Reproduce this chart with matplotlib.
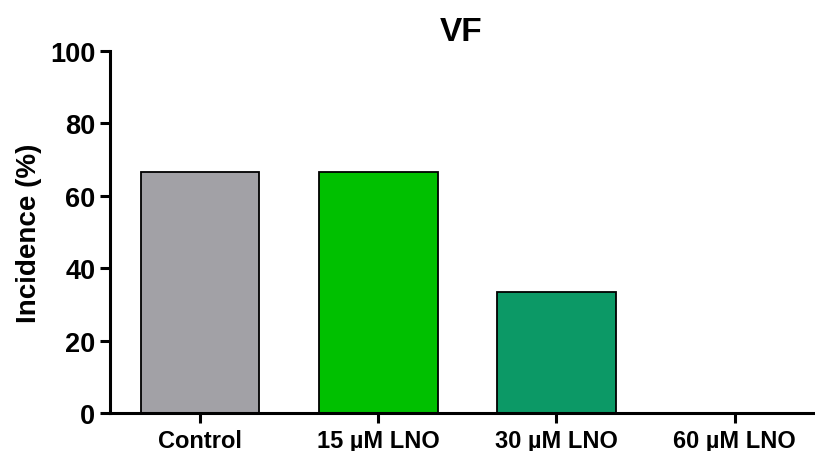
import matplotlib
matplotlib.use("Agg")
import matplotlib.pyplot as plt

categories = ["Control", "15 µM LNO", "30 µM LNO", "60 µM LNO"]
values = [66.67, 66.67, 33.33, 0.0]
colors = ["#A2A1A6", "#00C000", "#0C9966", "#FFFFFF"]
yticks = [0, 20, 40, 60, 80, 100]

plt.rcParams["font.family"] = ["Liberation Sans", "DejaVu Sans"]
plt.rcParams["font.weight"] = "bold"

fig = plt.figure(figsize=(8.15, 4.52), dpi=100)
ax = fig.add_axes([110/815, 1-414/452, (813-110)/815, (414-52)/452])

x = list(range(len(categories)))
ax.bar(x, values, width=0.665, color=colors, edgecolor="black", linewidth=1.3, zorder=2)

ax.set_xlim(-0.506, 3.44)
ax.set_ylim(0, 100)
ax.set_yticks(yticks)
ax.set_xticks(x)
ax.set_xticklabels(categories, fontsize=17, fontweight="bold")
ax.set_yticklabels([str(t) for t in yticks], fontsize=19.5, fontweight="bold")
ax.set_ylabel("Incidence (%)", fontsize=20, fontweight="bold", labelpad=6)
ax.set_title("VF", fontsize=24, fontweight="bold", pad=8)

for s in ["top", "right"]:
    ax.spines[s].set_visible(False)
for s in ["left", "bottom"]:
    ax.spines[s].set_linewidth(2.2)
ax.tick_params(axis="both", direction="out", length=7.5, width=2.2, color="black")
ax.tick_params(axis="x", pad=4)
ax.tick_params(axis="y", pad=3)

fig.savefig("out.png", dpi=100)
